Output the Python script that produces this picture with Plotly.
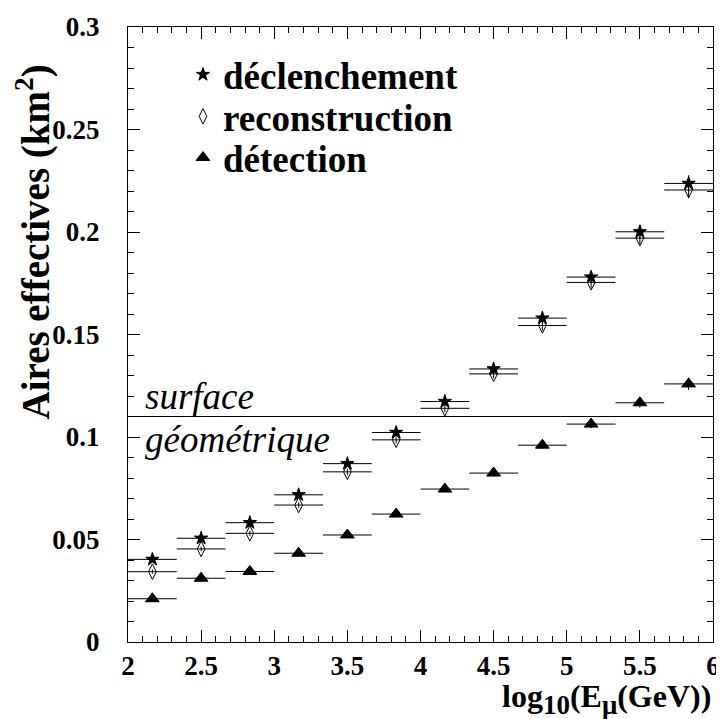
import plotly.graph_objects as go

# ---- data ----
bin_centers = [2 + 1/6 + i/3 for i in range(12)]
bin_half_width = 1/6
declenchement = [0.0403, 0.0506, 0.0582, 0.0718, 0.0870, 0.1022, 0.1173, 0.1332, 0.1580, 0.1780, 0.2001, 0.2237]
declenchement_err = [0.0010, 0.0011, 0.0012, 0.0013, 0.0015, 0.0017, 0.0019, 0.0021, 0.0025, 0.0029, 0.0033, 0.0040]
reconstruction = [0.0343, 0.0454, 0.0530, 0.0668, 0.0830, 0.0986, 0.1140, 0.1308, 0.1544, 0.1754, 0.1970, 0.2205]
reconstruction_err = [0.0010, 0.0011, 0.0012, 0.0013, 0.0015, 0.0017, 0.0019, 0.0021, 0.0025, 0.0029, 0.0033, 0.0040]
detection = [0.0211, 0.0311, 0.0344, 0.0433, 0.0522, 0.0624, 0.0746, 0.0824, 0.0960, 0.1063, 0.1167, 0.1259]
detection_err = [0.0008, 0.0009, 0.0009, 0.0010, 0.0011, 0.0012, 0.0013, 0.0014, 0.0017, 0.0020, 0.0024, 0.0030]
surface_geometrique = 0.11
x_ticks = [2, 2.5, 3, 3.5, 4, 4.5, 5, 5.5, 6]
x_tick_labels = ["2", "2.5", "3", "3.5", "4", "4.5", "5", "5.5", "6"]
y_ticks = [0, 0.05, 0.1, 0.15, 0.2, 0.25, 0.3]
y_tick_labels = ["0", "0.05", "0.1", "0.15", "0.2", "0.25", "0.3"]

serif = "Liberation Serif"

fig = go.Figure()

def add_series(name, y, err, symbol, size, legend_id):
    fig.add_trace(go.Scatter(
        x=bin_centers, y=y, mode="markers", name="<b>" + name + "</b>",
        legend=legend_id,
        marker=dict(symbol=symbol, size=size, color="black",
                    line=dict(color="black", width=1)),
        error_x=dict(type="constant", value=bin_half_width, width=0,
                     color="black", thickness=1),
        error_y=dict(type="data", array=err, width=0,
                     color="black", thickness=1),
    ))

add_series("déclenchement", declenchement, declenchement_err, "star", 10, "legend")
add_series("reconstruction", reconstruction, reconstruction_err, "diamond-tall-open", 11, "legend2")
add_series("détection", detection, detection_err, "triangle-up", 12, "legend3")

fig.add_shape(type="line", xref="paper", x0=0, x1=1, yref="y",
              y0=surface_geometrique, y1=surface_geometrique,
              line=dict(color="black", width=1))

fig.add_annotation(x=2.1, y=surface_geometrique, xref="x", yref="y",
                   text="<i>surface</i>", showarrow=False,
                   xanchor="left", yanchor="bottom", yshift=-2,
                   font=dict(family=serif, size=37, color="black"))
fig.add_annotation(x=2.1, y=surface_geometrique, xref="x", yref="y",
                   text="<i>géométrique</i>", showarrow=False,
                   xanchor="left", yanchor="top",
                   font=dict(family=serif, size=37, color="black"))

fig.add_annotation(x=-0.162, y=0.65, xref="paper", yref="paper",
                   text="<b>Aires effectives (km<sup>2</sup>)</b>", showarrow=False,
                   textangle=-90, xanchor="center", yanchor="middle",
                   font=dict(family=serif, size=39, color="black"))
fig.add_annotation(x=1.0, y=-0.055, xref="paper", yref="paper",
                   text="<b>log<sub><span style='font-size:27px'>10</span></sub>"
                        "(E<sub><span style='font-size:27px'>μ</span></sub>(GeV))</b>",
                   showarrow=False, xanchor="right", yanchor="top",
                   font=dict(family=serif, size=32, color="black"))

axis_common = dict(
    showgrid=False, zeroline=False, showline=True, linecolor="black", linewidth=1,
    mirror="allticks", ticks="inside", ticklen=12, tickcolor="black", tickwidth=1,
    tickfont=dict(family=serif, size=27, color="black"),
    ticklabeloverflow="allow",
)

fig.update_xaxes(range=[2, 6],
                 tickvals=x_ticks,
                 ticktext=["<b>" + t + "</b>" for t in x_tick_labels],
                 minor=dict(dtick=0.1, tick0=2, ticks="inside", ticklen=6, tickcolor="black"),
                 ticklabelstandoff=0,
                 **axis_common)
fig.update_yaxes(range=[0, 0.3],
                 tickvals=y_ticks,
                 ticktext=["<b>" + t + "</b>" for t in y_tick_labels],
                 minor=dict(dtick=0.01, tick0=0, ticks="inside", ticklen=6, tickcolor="black"),
                 ticklabelstandoff=22,
                 **axis_common)

legend_style = dict(x=0.094, xanchor="left", yanchor="middle",
                    bgcolor="rgba(0,0,0,0)", borderwidth=0,
                    font=dict(family=serif, size=37, color="black"),
                    itemsizing="trace")

fig.update_layout(
    width=716, height=711,
    margin=dict(l=120, r=8, t=4, b=77),
    font=dict(family=serif, color="black"),
    paper_bgcolor="white", plot_bgcolor="white",
    showlegend=True,
    legend=dict(y=0.922, **legend_style),
    legend2=dict(y=0.854, **legend_style),
    legend3=dict(y=0.787, **legend_style),
)

fig.write_html("out.html")
